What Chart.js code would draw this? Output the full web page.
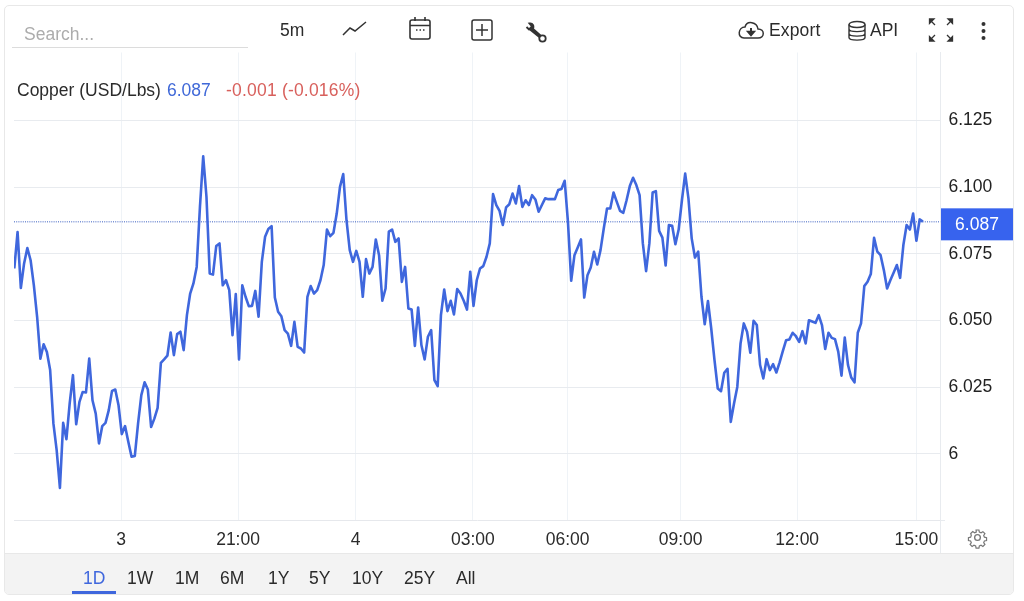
<!DOCTYPE html>
<html><head><meta charset="utf-8">
<script src="https://cdn.jsdelivr.net/npm/chart.js@4"></script>
<style>
html,body{margin:0;padding:0;width:1024px;height:601px;overflow:hidden;background:#fff;font-family:"Liberation Sans",Arial,sans-serif;color:#2b2b2b}
#panel{position:absolute;left:4px;top:5px;width:1008px;height:588px;border:1.5px solid #e8e8e8;border-radius:5px}
#bar{position:absolute;left:5px;top:553px;width:1008px;height:41px;background:#f3f3f3;border-top:1px solid #e8e8e8;border-radius:0 0 4px 4px;box-sizing:border-box}
canvas{position:absolute;left:0;top:0}
.t{position:absolute;font-size:17.5px;line-height:20px;white-space:nowrap}
svg{position:absolute;overflow:visible}
#under{position:absolute;left:12px;top:47px;width:236px;height:1px;background:#dcdcdc}
#rng{position:absolute;left:72px;top:591px;width:44px;height:2.5px;background:#3f67dd}
.ln{position:absolute;background:#e8ebef}
</style></head><body>
<div id="panel"></div>
<div id="bar"></div>
<div id="under"></div>
<div class="ln" style="left:940px;top:521px;width:1px;height:32px"></div>
<div class="ln" style="left:940px;top:520px;width:5px;height:1px"></div>
<div style="position:absolute;left:0;top:0;width:1024px;height:601px"><canvas id="c" width="1024" height="601" style="width:1024px;height:601px"></canvas></div>
<div class="t" style="left:24px;top:24px;color:#acacac">Search...</div>
<div class="t" style="left:280px;top:20px">5m</div>
<svg style="left:343px;top:21px" width="24" height="16" fill="none" stroke="#333" stroke-width="1.5"><path d="M0 14 L7 7 L12 10 L23 1"/></svg>
<svg style="left:409px;top:17px" width="22" height="24" fill="none" stroke="#333" stroke-width="1.6"><rect x="1" y="3" width="20" height="19" rx="2"/><path d="M1 8.500H21M6 0V4M16 0V4"/><path d="M7 13h1.500M10.500 13h1.500M14 13h1.500" stroke-width="1.7"/></svg>
<svg style="left:471px;top:19px" width="22" height="22" fill="none" stroke="#333" stroke-width="1.5"><rect x="1" y="1" width="20" height="20" rx="2"/><path d="M11 5V17M5 11H17"/></svg>
<svg style="left:526px;top:23px" width="21" height="20" fill="none" stroke="#333"><path d="M0.500 4 L3 6.500 L6 3.500 L3.500 0.500 C7 0 8 3 7 6 L15 13" stroke-width="1.900" fill="#333"/><path d="M4 6 L14 14" stroke-width="2.800"/><circle cx="16.500" cy="15.500" r="3.200" stroke-width="1.800"/></svg>
<svg style="left:738px;top:21px" width="26" height="19" fill="none" stroke="#333" stroke-width="1.500"><path d="M6 17 H20 C27 17 27 8 20 8 C19 1 9 -1 7 6 C0 6 -1 17 6 17Z"/><path d="M13 7V13" stroke-width="2"/><path d="M9.500 10.500 L13 14.500 L16.500 10.500Z" fill="#333"/></svg>
<div class="t" style="left:769px;top:20px;letter-spacing:.15px">Export</div>
<svg style="left:848px;top:21px" width="18" height="20" fill="none" stroke="#333" stroke-width="1.400"><ellipse cx="9" cy="3.500" rx="8" ry="3"/><path d="M1 3.500V16.500C1 20 17 20 17 16.500V3.500M1 8C1 11.500 17 11.500 17 8M1 12.500C1 16 17 16 17 12.500"/></svg>
<div class="t" style="left:870px;top:20px">API</div>
<svg style="left:929px;top:18px" width="24" height="24" fill="#333" stroke="#333" stroke-width="1.300"><path d="M1 2 L6 7M18 7 L23 2M1 22 L6 17M23 22 L18 17" fill="none"/><path d="M0.500 1 H5 L0.500 5.500Z M23.500 1 H19 L23.500 5.500Z M0.500 23 H5 L0.500 18.500Z M23.500 23 H19 L23.500 18.500Z"/></svg>
<svg style="left:980px;top:21px" width="7" height="20" fill="#333"><circle cx="3.500" cy="3" r="2"/><circle cx="3.500" cy="10" r="2"/><circle cx="3.500" cy="17" r="2"/></svg>
<div class="t" style="left:17px;top:80px">Copper (USD/Lbs)</div>
<div class="t" style="left:167px;top:80px;color:#3f68d8">6.087</div>
<div class="t" style="left:226px;top:80px;color:#d8605c;letter-spacing:.2px">-0.001 (-0.016%)</div>
<svg style="left:968px;top:528px" width="19" height="19" viewBox="0 0 24 24" fill="none" stroke="#777" stroke-width="1.700"><circle cx="12" cy="12" r="3.600"/><path d="M10 1.500h4l.6 3 2.400 1 2.600-1.700 2.800 2.800-1.700 2.600 1 2.400 3 .6v4l-3 .6-1 2.400 1.700 2.600-2.800 2.800-2.600-1.700-2.400 1-.6 3h-4l-.6-3-2.400-1-2.600 1.700-2.800-2.800 1.700-2.600-1-2.400-3-.6v-4l3-.6 1-2.400L2.500 6.400 5.300 3.600 7.900 5.300l2.400-1z" transform="translate(1.200 1.200) scale(.9)"/></svg>
<div id="rngs"></div>
<div id="rng"></div>
<script>
const seriesName = "Copper (USD/Lbs)";
const lastPrice = 6.087;
const xTickPositions = [32.8, 68.7, 104.8, 140.8, 169.9, 204.6, 240.4, 277];
const xTickLabels = ["3", "21:00", "4", "03:00", "06:00", "09:00", "12:00", "15:00"];
const yTickValues = [6, 6.025, 6.05, 6.075, 6.1, 6.125];
const yTickLabels = ["6", "6.025", "6.050", "6.075", "6.100", "6.125"];
const rangeLabels = ["1D", "1W", "1M", "6M", "1Y", "5Y", "10Y", "25Y", "All"];
const rangeLefts = [83, 127, 175, 220, 268, 309, 352, 404, 456];
const prices = [
6.0695,6.0832,6.0622,6.0714,6.0772,6.0726,6.0632,6.0514,6.0357,6.0411,6.0382,6.0314,6.0114,6.0014,5.9872,6.0116,6.0055,6.0189,6.0295,6.0111,
6.0195,6.0232,6.0230,6.0357,6.0201,6.0151,6.0039,6.0104,6.0116,6.0164,6.0236,6.0241,6.0182,6.0074,6.0104,6.0045,5.9989,5.9992,6.0114,6.0220,
6.0268,6.0241,6.0101,6.0132,6.0172,6.0341,6.0354,6.0368,6.0455,6.0370,6.0449,6.0458,6.0389,6.0520,6.0601,6.0639,6.0701,6.0926,6.1116,6.0964,
6.0676,6.0672,6.0779,6.0789,6.0632,6.0651,6.0614,6.0445,6.0599,6.0354,6.0632,6.0589,6.0554,
6.0555,6.0611,6.0514,6.0720,6.0814,6.0843,6.0854,6.0586,6.0533,6.0516,6.0464,6.0451,6.0405,6.0495,6.0401,6.0395,6.0380,6.0589,6.0629,6.0601,
6.0614,6.0651,6.0708,6.0841,6.0816,6.0829,6.0901,6.1001,6.1049,6.0876,6.0764,6.0720,6.0761,6.0720,6.0589,6.0730,6.0676,6.0701,6.0804,6.0745,
6.0574,6.0620,6.0833,6.0841,6.0795,6.0808,6.0645,6.0701,6.0545,6.0541,6.0405,6.0549,6.0408,6.0354,6.0439,6.0464,6.0276,6.0254,6.0520,6.0616,
6.0535,6.0574,6.0523,6.0618,6.0601,6.0574,6.0541,6.0683,6.0555,6.0651,
6.0695,6.0704,6.0739,6.0789,6.0974,6.0933,6.0911,6.0858,6.0924,6.0936,6.0976,6.0939,6.1004,6.0926,6.0951,6.0933,6.0970,6.0954,6.0908,6.0933,
6.0958,6.0955,6.0955,6.0955,6.0989,6.0993,6.1024,6.0870,6.0649,6.0745,6.0774,6.0804,6.0586,6.0670,6.0699,6.0758,6.0710,6.0764,6.0845,6.0920,
6.0920,6.0980,6.0945,6.0911,6.0904,6.0951,6.1004,6.1035,6.1008,6.0970,6.0789,6.0685,6.0789,6.0980,6.0985,6.0836,6.0811,6.0706,6.0858,6.0855,
6.0786,6.0841,6.0951,6.1051,6.0958,6.0808,6.0736,6.0758,6.0589,6.0486,6.0573,6.0470,6.0351,6.0245,6.0235,
6.0304,6.0319,6.0120,6.0189,6.0251,6.0414,6.0489,6.0458,6.0379,6.0499,6.0483,6.0333,6.0283,6.0355,6.0314,6.0336,6.0305,6.0343,6.0386,6.0426,
6.0429,6.0454,6.0441,6.0420,6.0460,6.0414,6.0501,6.0496,6.0491,6.0520,6.0483,6.0393,6.0454,6.0435,6.0430,6.0383,6.0293,6.0436,6.0333,6.0286,
6.0268,6.0454,6.0489,6.0629,6.0645,6.0674,6.0810,6.0758,6.0745,6.0689,6.0620,6.0651,6.0679,6.0708,6.0660,6.0783,6.0858,6.0841,6.0901,6.0799,
6.0879,6.0871
];
const xMin = -0.1, xMax = 284.4, yMin = 5.975, yMax = 6.1505;
const tickFont = {family: '"Liberation Sans", Arial, sans-serif', size: 17.5};

rangeLabels.forEach((s, i) => {
  const d = document.createElement('div');
  d.className = 't';
  d.textContent = s;
  d.style.left = rangeLefts[i] + 'px';
  d.style.top = '568px';
  if (i === 0) d.style.color = '#3f67dd';
  document.getElementById('rngs').appendChild(d);
});

const priceTag = {
  id: 'priceTag',
  afterDraw(chart) {
    const y = chart.scales.y.getPixelForValue(lastPrice) + 2.5;
    const c = chart.ctx;
    c.save();
    c.fillStyle = '#3763ee';
    c.fillRect(941, y - 16, 72, 32);
    c.fillStyle = '#fff';
    c.font = '17.5px "Liberation Sans", Arial, sans-serif';
    c.textAlign = 'center';
    c.textBaseline = 'middle';
    c.fillText(lastPrice.toFixed(3), 977, y + 1);
    c.restore();
  }
};

new Chart(document.getElementById('c'), {
  type: 'line',
  data: {
    datasets: [
      {label: seriesName, data: prices.map((v, i) => ({x: i, y: v})), borderColor: '#3f67dd', borderWidth: 2.6, pointRadius: 0, tension: 0, borderJoinStyle: 'round'},
      {label: 'Last', data: [{x: xMin, y: lastPrice}, {x: xMax, y: lastPrice}], borderColor: '#3a5fc0', borderWidth: 1, borderDash: [1, 1.2], pointRadius: 0}
    ]
  },
  plugins: [priceTag],
  options: {
    responsive: false, animation: false, devicePixelRatio: 1,
    layout: {padding: {left: 14, top: 52.5, right: 0, bottom: 0}},
    plugins: {legend: {display: false}, tooltip: {enabled: false}},
    scales: {
      x: {
        type: 'linear', min: xMin, max: xMax,
        afterBuildTicks: s => { s.ticks = xTickPositions.map(v => ({value: v})); },
        afterFit: s => { s.height = 80.5; },
        ticks: {
          autoSkip: false, maxRotation: 0, font: tickFont, color: '#2b2b2b', padding: 9,
          callback: v => { const k = xTickPositions.indexOf(v); return k >= 0 ? xTickLabels[k] : ''; }
        },
        grid: {color: '#eff3f7', lineWidth: 1, drawTicks: false},
        border: {display: true, color: '#e6e8ec'}
      },
      y: {
        type: 'linear', position: 'right', min: yMin, max: yMax,
        afterBuildTicks: s => { s.ticks = yTickValues.map(v => ({value: v})); },
        afterFit: s => { s.width = 83.5; },
        ticks: {
          font: tickFont, color: '#222', padding: 8, align: 'center', crossAlign: 'near',
          callback: v => { const k = yTickValues.indexOf(v); return k >= 0 ? yTickLabels[k] : ''; }
        },
        grid: {color: '#e8ebef', lineWidth: 1, drawTicks: false},
        border: {display: true, color: '#e8ebef'}
      }
    }
  }
});
</script>
</body></html>
